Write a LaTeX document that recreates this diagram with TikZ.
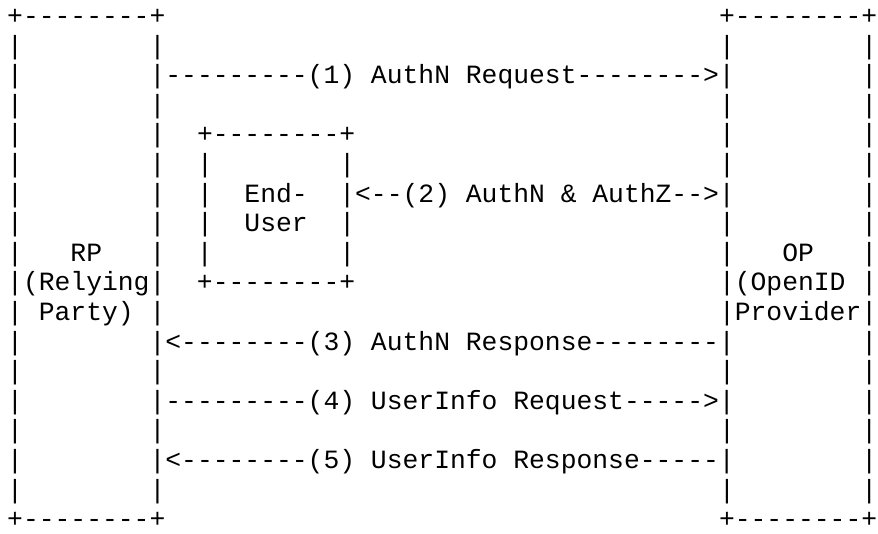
\documentclass[tikz,border=0pt]{standalone}
\usepackage{fontspec}
\setmonofont{Liberation Mono}
\usepackage{tikz}

\begin{document}
\begin{tikzpicture}[x=1pt,y=1pt,
  txtrow/.style={anchor=base west,inner sep=0pt,font=\ttfamily\fontsize{26.36}{30}\selectfont}]
\fill[white] (0,0) rectangle (878,-534);
\useasboundingbox (0,0) rectangle (878,-534);

\draw (7,-24.5)  node (row0)  [txtrow] {+--------+~~~~~~~~~~~~~~~~~~~~~~~~~~~~~~~~~~~+--------+};
\draw (7,-54.1)  node (row1)  [txtrow] {|~~~~~~~~|~~~~~~~~~~~~~~~~~~~~~~~~~~~~~~~~~~~|~~~~~~~~|};
\draw (7,-83.7)  node (row2)  [txtrow] {|~~~~~~~~|---------(1)~AuthN~Request-------->|~~~~~~~~|};
\draw (7,-113.3) node (row3)  [txtrow] {|~~~~~~~~|~~~~~~~~~~~~~~~~~~~~~~~~~~~~~~~~~~~|~~~~~~~~|};

% end-user box
\draw (7,-142.9) node (row4)  [txtrow] {|~~~~~~~~|~~+--------+~~~~~~~~~~~~~~~~~~~~~~~|~~~~~~~~|};
\draw (7,-172.5) node (row5)  [txtrow] {|~~~~~~~~|~~|~~~~~~~~|~~~~~~~~~~~~~~~~~~~~~~~|~~~~~~~~|};
\draw (7,-202.1) node (row6)  [txtrow] {|~~~~~~~~|~~|~~End-~~|<--(2)~AuthN~\&~AuthZ-->|~~~~~~~~|};
\draw (7,-231.7) node (row7)  [txtrow] {|~~~~~~~~|~~|~~User~~|~~~~~~~~~~~~~~~~~~~~~~~|~~~~~~~~|};
\draw (7,-261.3) node (row8)  [txtrow] {|~~~RP~~~|~~|~~~~~~~~|~~~~~~~~~~~~~~~~~~~~~~~|~~~OP~~~|};
\draw (7,-290.9) node (row9)  [txtrow] {|(Relying|~~+--------+~~~~~~~~~~~~~~~~~~~~~~~|(OpenID~|};
\draw (7,-320.5) node (row10) [txtrow] {|~Party)~|~~~~~~~~~~~~~~~~~~~~~~~~~~~~~~~~~~~|Provider|};

% responses and userinfo
\draw (7,-350.1) node (row11) [txtrow] {|~~~~~~~~|<--------(3)~AuthN~Response--------|~~~~~~~~|};
\draw (7,-379.7) node (row12) [txtrow] {|~~~~~~~~|~~~~~~~~~~~~~~~~~~~~~~~~~~~~~~~~~~~|~~~~~~~~|};
\draw (7,-409.3) node (row13) [txtrow] {|~~~~~~~~|---------(4)~UserInfo~Request----->|~~~~~~~~|};
\draw (7,-438.9) node (row14) [txtrow] {|~~~~~~~~|~~~~~~~~~~~~~~~~~~~~~~~~~~~~~~~~~~~|~~~~~~~~|};
\draw (7,-468.5) node (row15) [txtrow] {|~~~~~~~~|<--------(5)~UserInfo~Response-----|~~~~~~~~|};
\draw (7,-498.1) node (row16) [txtrow] {|~~~~~~~~|~~~~~~~~~~~~~~~~~~~~~~~~~~~~~~~~~~~|~~~~~~~~|};
\draw (7,-527.7) node (row17) [txtrow] {+--------+~~~~~~~~~~~~~~~~~~~~~~~~~~~~~~~~~~~+--------+};
\end{tikzpicture}
\end{document}
